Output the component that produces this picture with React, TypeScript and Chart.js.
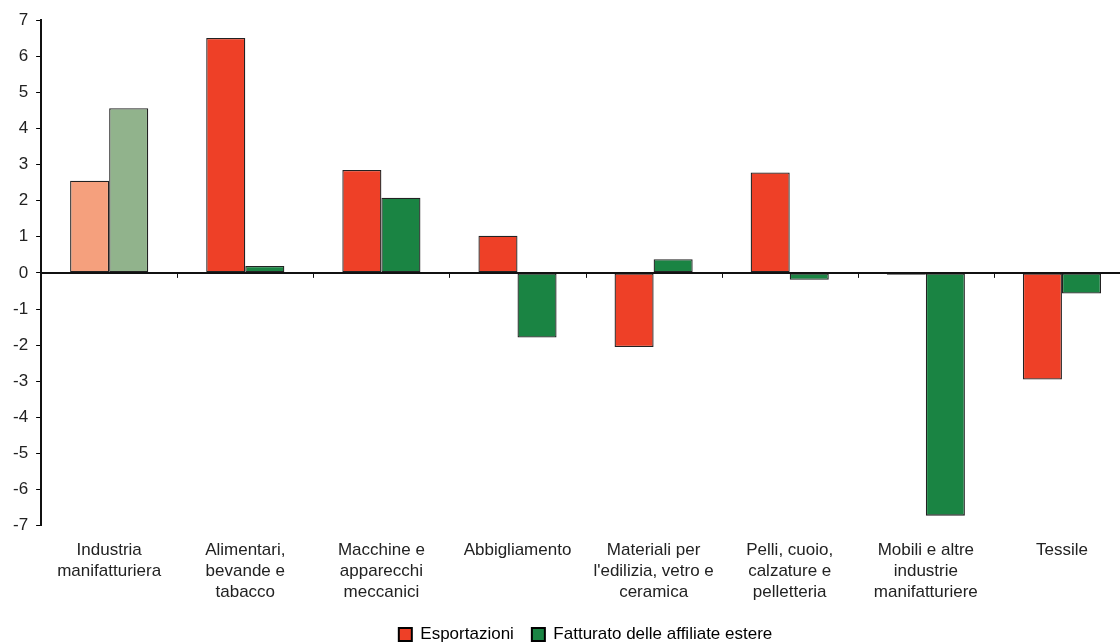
import React, { useEffect, useRef } from "react";
import { Chart, registerables } from "chart.js";

Chart.register(...registerables);

const categories: string[][] = [
  ["Industria", "manifatturiera"],
  ["Alimentari,", "bevande e", "tabacco"],
  ["Macchine e", "apparecchi", "meccanici"],
  ["Abbigliamento"],
  ["Materiali per", "l'edilizia, vetro e", "ceramica"],
  ["Pelli, cuoio,", "calzature e", "pelletteria"],
  ["Mobili e altre", "industrie", "manifatturiere"],
  ["Tessile"],
];

const esportazioni = [2.55, 6.5, 2.85, 1.03, -2.05, 2.78, -0.05, -2.95];
const fatturato = [4.56, 0.19, 2.08, -1.79, 0.38, -0.19, -6.72, -0.57];

const seriesNames = ["Esportazioni", "Fatturato delle affiliate estere"];
const redMain = "#EE4027";
const redLight = "#F5A07D";
const greenMain = "#1A8443";
const greenLight = "#91B38C";

const zeroLinePlugin = {
  id: "zeroLine",
  afterDatasetsDraw(chart: any) {
    const { ctx, chartArea, scales } = chart;
    const y0 = scales.y.getPixelForValue(0);
    ctx.save();
    ctx.strokeStyle = "#111";
    ctx.lineWidth = 2;
    ctx.beginPath();
    ctx.moveTo(chartArea.left, y0);
    ctx.lineTo(chartArea.right, y0);
    ctx.stroke();
    ctx.lineWidth = 1;
    const n = categories.length;
    for (let i = 1; i < n; i++) {
      const x = Math.round((scales.x.getPixelForTick(i - 1) + scales.x.getPixelForTick(i)) / 2) + 0.5;
      ctx.beginPath();
      ctx.moveTo(x, y0);
      ctx.lineTo(x, y0 + 5);
      ctx.stroke();
    }
    ctx.restore();
  },
};

export default function App() {
  const ref = useRef<HTMLCanvasElement | null>(null);
  useEffect(() => {
    document.body.style.margin = "0";
    document.body.style.overflow = "hidden";
    document.documentElement.style.overflow = "hidden";
    const font = { family: "'Liberation Sans', Arial, sans-serif", size: 17 };
    const chart = new Chart(ref.current as HTMLCanvasElement, {
      type: "bar",
      data: {
        labels: categories,
        datasets: [
          {
            label: seriesNames[0],
            data: esportazioni,
            backgroundColor: esportazioni.map((_, i) => (i === 0 ? redLight : redMain)),
            borderColor: "#222",
            borderWidth: 1.3,
            borderSkipped: false,
          },
          {
            label: seriesNames[1],
            data: fatturato,
            backgroundColor: fatturato.map((_, i) => (i === 0 ? greenLight : greenMain)),
            borderColor: "#222",
            borderWidth: 1.3,
            borderSkipped: false,
          },
        ],
      },
      options: {
        animation: false,
        responsive: false,
        maintainAspectRatio: false,
        layout: { padding: { top: 20, left: 5, right: 0, bottom: 0 } },
        datasets: { bar: { categoryPercentage: 0.574, barPercentage: 1 } },
        plugins: {
          tooltip: { enabled: false },
          legend: {
            position: "bottom",
            fullSize: false,
            labels: {
              font,
              color: "#222",
              boxWidth: 13,
              boxHeight: 13,
              padding: 18,
              generateLabels: () =>
                seriesNames.map((name, i) => ({
                  text: name,
                  fillStyle: i === 0 ? redMain : greenMain,
                  strokeStyle: "#000",
                  lineWidth: 2,
                  datasetIndex: i,
                  hidden: false,
                })),
            },
          },
        },
        scales: {
          x: {
            grid: { display: false, drawTicks: false },
            border: { display: false },
            ticks: { font: { ...font, lineHeight: 1.24 }, color: "#222", padding: 14, maxRotation: 0, autoSkip: false },
            afterFit(scale: any) {
              scale.height -= 9;
            },
          },
          y: {
            min: -7,
            max: 7,
            ticks: { stepSize: 1, font, color: "#222", padding: 8 },
            grid: { drawOnChartArea: false, tickLength: 5, tickColor: "#000", tickWidth: 1 },
            border: { display: true, color: "#111", width: 2 },
          },
        },
      },
      plugins: [zeroLinePlugin],
    });
    return () => chart.destroy();
  }, []);
  return (
    <div style={{ width: 1130, height: 642, overflow: "hidden" }}>
      <canvas ref={ref} width={1130} height={653} style={{ display: "block" }} />
    </div>
  );
}
